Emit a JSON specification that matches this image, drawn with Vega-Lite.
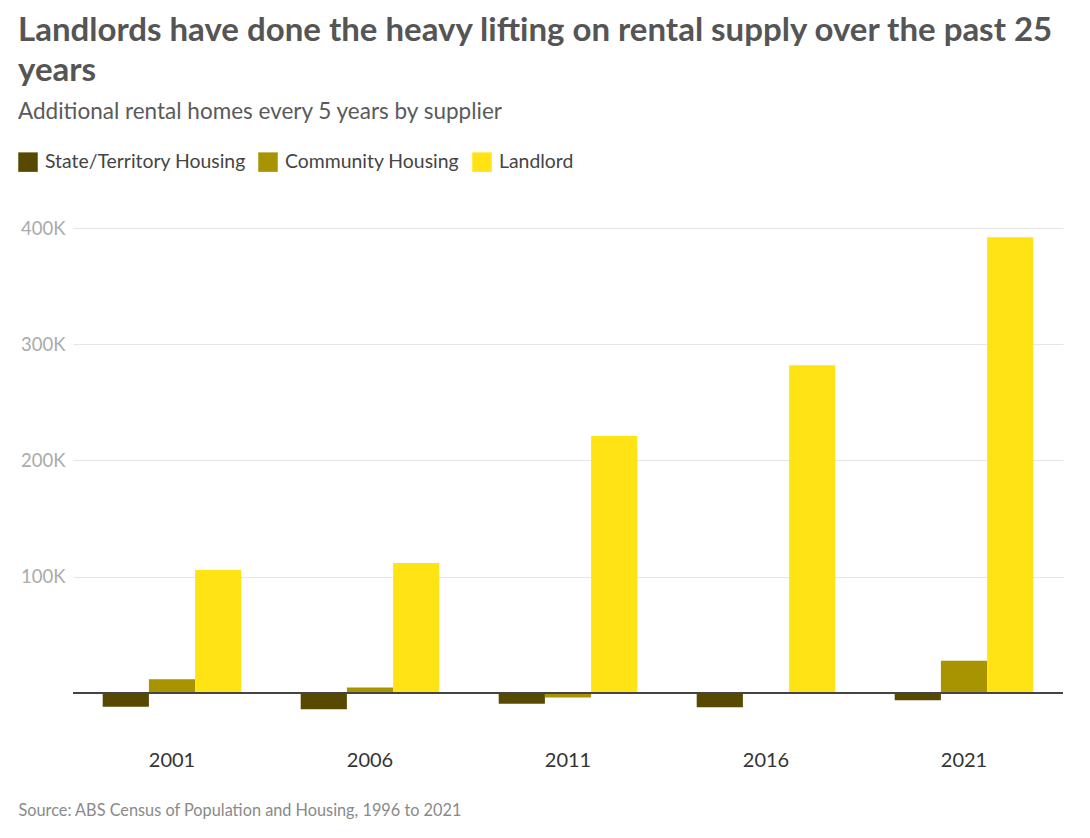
{
  "$schema": "https://vega.github.io/schema/vega-lite/v6.json",
  "width": 990,
  "height": 494,
  "padding": {"left": 18, "top": 14, "right": 27, "bottom": 2},
  "background": "white",
  "config": {
    "font": "Lato",
    "view": {"stroke": null}
  },
  "title": {
    "text": ["Landlords have done the heavy lifting on rental supply over the past 25", "years"],
    "subtitle": "Additional rental homes every 5 years by supplier",
    "anchor": "start",
    "frame": "bounds",
    "font": "Lato",
    "fontSize": 33,
    "fontWeight": "bold",
    "color": "#555555",
    "lineHeight": 40,
    "subtitleFont": "Lato",
    "subtitleFontSize": 22.5,
    "subtitleColor": "#5a5a5a",
    "subtitlePadding": 13,
    "offset": 29
  },
  "data": {
    "values": [
      {"year": "2001", "supplier": "State/Territory Housing", "value": -11800},
      {"year": "2001", "supplier": "Community Housing", "value": 11800},
      {"year": "2001", "supplier": "Landlord", "value": 105800},
      {"year": "2006", "supplier": "State/Territory Housing", "value": -14000},
      {"year": "2006", "supplier": "Community Housing", "value": 4600},
      {"year": "2006", "supplier": "Landlord", "value": 111800},
      {"year": "2011", "supplier": "State/Territory Housing", "value": -9200},
      {"year": "2011", "supplier": "Community Housing", "value": -4000},
      {"year": "2011", "supplier": "Landlord", "value": 221000},
      {"year": "2016", "supplier": "State/Territory Housing", "value": -12300},
      {"year": "2016", "supplier": "Community Housing", "value": 0},
      {"year": "2016", "supplier": "Landlord", "value": 282000},
      {"year": "2021", "supplier": "State/Territory Housing", "value": -6300},
      {"year": "2021", "supplier": "Community Housing", "value": 27800},
      {"year": "2021", "supplier": "Landlord", "value": 392000}
    ]
  },
  "layer": [
    {
      "mark": {"type": "bar"},
      "encoding": {
        "x": {
          "field": "year",
          "type": "nominal",
          "scale": {"paddingInner": 0.3, "paddingOuter": 0.15},
          "axis": {
            "title": "Source: ABS Census of Population and Housing, 1996 to 2021",
            "titleFont": "Lato",
            "titleFontSize": 16.3,
            "titleFontWeight": "normal",
            "titleColor": "#8a8a8a",
            "titleAnchor": "start",
            "titleAlign": "left",
            "titleX": -55,
            "titleY": 88,
            "titleBaseline": "middle",
            "labelAngle": 0,
            "labelFontSize": 20,
            "labelColor": "#333333",
            "labelPadding": 28,
            "domain": false,
            "ticks": false
          }
        },
        "xOffset": {
          "field": "supplier",
          "type": "nominal",
          "sort": ["State/Territory Housing", "Community Housing", "Landlord"],
          "scale": {"paddingInner": 0, "paddingOuter": 0}
        },
        "y": {
          "field": "value",
          "type": "quantitative",
          "scale": {"domain": [-25000, 400000], "nice": false, "zero": true},
          "axis": {
            "title": null,
            "values": [100000, 200000, 300000, 400000],
            "format": "~s",
            "labelExpr": "replace(datum.label, 'k', 'K')",
            "labelFontSize": 18.5,
            "labelColor": "#aaaaaa",
            "labelPadding": 8,
            "domain": false,
            "ticks": false,
            "gridColor": "#e6e6e6",
            "gridWidth": 1
          }
        },
        "color": {
          "field": "supplier",
          "type": "nominal",
          "sort": ["State/Territory Housing", "Community Housing", "Landlord"],
          "scale": {
            "domain": ["State/Territory Housing", "Community Housing", "Landlord"],
            "range": ["#574a00", "#a89300", "#ffe314"]
          },
          "legend": {
            "title": null,
            "orient": "none",
            "direction": "horizontal",
            "legendX": -55,
            "legendY": -76,
            "symbolType": "square",
            "symbolSize": 380,
            "symbolStrokeWidth": 0,
            "labelFontSize": 19.4,
            "labelLimit": 0,
            "labelColor": "#444444",
            "labelFont": "Lato",
            "columnPadding": 12,
            "labelOffset": 7
          }
        }
      }
    },
    {
      "mark": {"type": "rule", "color": "#444444", "strokeWidth": 1.2},
      "encoding": {
        "y": {"datum": 0}
      }
    }
  ]
}
